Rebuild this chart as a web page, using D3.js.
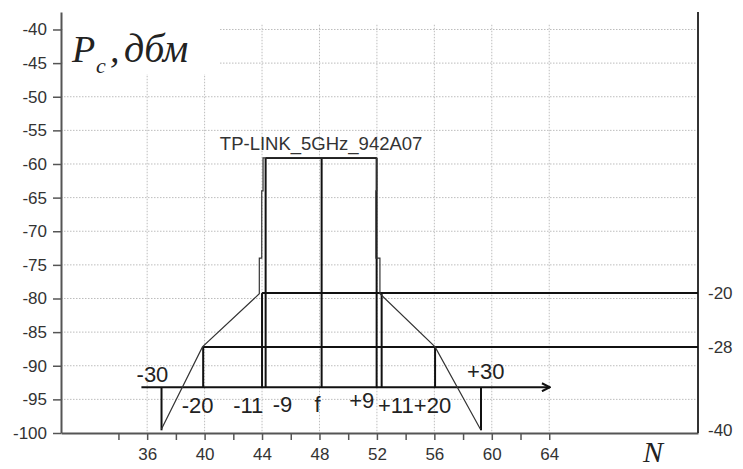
<!DOCTYPE html>
<html>
<head>
<meta charset="utf-8">
<script src="https://cdn.jsdelivr.net/npm/d3@7"></script>
<style>
  body { margin: 0; background: #fff; }
  .axis text { font-family: "Liberation Sans", Arial, sans-serif; font-size: 17px; fill: #333; }
  .axis path, .axis line { stroke: #555; }
</style>
</head>
<body>
<div id="chart"></div>
<script>
// level axis (dBm) and channel axis
var yTicks = [-100, -95, -90, -85, -80, -75, -70, -65, -60, -55, -50, -45, -40];
var xTicks = [34, 36, 38, 40, 42, 44, 46, 48, 50, 52, 54, 56, 58, 60, 62, 64];
var xLabels = [36, 40, 44, 48, 52, 56, 60, 64];

// mask levels: peak, -20, -28, -40 dBr
var levels = [-59.1, -79.2, -87.2, -99.6];
var levelNames = ["", "-20", "-28", "-40"];

// mask template (offsets from f, drawn at channel positions)
var maskNames = ["-30", "-20", "-11", "-9", "f", "+9", "+11", "+20", "+30"];
var maskCh    = [37.0, 39.9, 44.0, 44.25, 48.15, 51.98, 52.33, 56.05, 59.25];
var maskLevel = [3, 2, 1, 0, 0, 0, 1, 2, 3];
var arrowLevel = -93.2, arrowFrom = 35.6, arrowTo = 64.05;

// label anchors for the mask offsets (channel, dBm)
var labelCh = [36.37, 39.51, 43.04, 45.42, 47.86, 50.94, 53.32, 55.87, 59.58];
var labelDb = [-92.4, -97.0, -97.0, -96.9, -96.9, -96.3, -97.0, -97.0, -91.9];

// measured signal of the access point
var ssid = "TP-LINK_5GHz_942A07";
var sigCh = [37.0, 39.85, 43.81, 43.81, 43.98, 43.98, 44.07, 44.07, 51.98, 51.98, 51.93, 51.93, 52.21, 52.21, 56.05, 59.2];
var sigDb = [-99.4, -87.2, -79.3, -74, -74, -64, -64, -59.1, -59.1, -64, -64, -74, -74, -79.3, -87.2, -99.4];

var margin = {top: 12, right: 45, bottom: 36, left: 61};
var width = 743 - margin.left - margin.right,
    height = 469 - margin.top - margin.bottom;

var svg = d3.select("#chart").append("svg")
  .attr("width", 743)
  .attr("height", 469);

var g = svg.append("g")
  .attr("transform", "translate(" + margin.left + "," + margin.top + ")");

var x = d3.scaleLinear().domain([30, 74.36]).range([0, width]);
var y = d3.scaleLinear().domain([-100, -37.4]).range([height, 0]);

// grid
g.append("g").selectAll("line")
  .data(yTicks.filter(function(d) { return d > -100; }))
  .enter().append("line")
  .attr("x1", 0).attr("x2", width)
  .attr("y1", function(d) { return y(d); })
  .attr("y2", function(d) { return y(d); })
  .attr("stroke", "#bdbdbd")
  .attr("stroke-dasharray", "1.5,1.5");

g.append("g").selectAll("line")
  .data(xLabels)
  .enter().append("line")
  .attr("x1", function(d) { return x(d); })
  .attr("x2", function(d) { return x(d); })
  .attr("y1", y(-39.3)).attr("y2", height)
  .attr("stroke", "#bdbdbd")
  .attr("stroke-dasharray", "1.5,1.5");

// title box
svg.append("rect")
  .attr("x", 64).attr("y", 14).attr("width", 155).attr("height", 60)
  .attr("fill", "#fff");

var serif = "'Liberation Serif', 'Times New Roman', serif";
svg.append("text")
  .attr("x", 72).attr("y", 62)
  .attr("font-family", serif).attr("font-style", "italic")
  .attr("font-size", 38).attr("fill", "#222")
  .text("P");
svg.append("text")
  .attr("x", 96).attr("y", 73)
  .attr("font-family", serif).attr("font-style", "italic")
  .attr("font-size", 22).attr("fill", "#222")
  .text("c");
svg.append("text")
  .attr("x", 110).attr("y", 62)
  .attr("font-family", serif).attr("font-style", "italic")
  .attr("font-size", 38).attr("fill", "#222")
  .text(",");
svg.append("text")
  .attr("x", 124).attr("y", 62)
  .attr("font-family", serif).attr("font-style", "italic")
  .attr("font-size", 40).attr("fill", "#222")
  .text("дбм");

// axes
g.append("g")
  .attr("class", "axis")
  .call(d3.axisLeft(y).tickValues(yTicks).tickSize(8).tickSizeOuter(0).tickPadding(6)
    .tickFormat(function(d) { return String(d); }))
  .call(function(a) {
    a.select(".domain").attr("stroke-width", 2);
    a.selectAll(".tick line").attr("stroke-width", 1.5);
  });

g.append("g")
  .attr("class", "axis")
  .attr("transform", "translate(0," + height + ")")
  .call(d3.axisBottom(x).tickValues(xTicks).tickSize(7).tickSizeOuter(0).tickPadding(8)
    .tickFormat(function(d) { return xLabels.indexOf(d) >= 0 ? String(d) : ""; }))
  .call(function(a) {
    a.select(".domain").attr("stroke-width", 2);
    a.selectAll(".tick line").attr("stroke-width", 1.5);
  });

g.append("line")
  .attr("x1", width).attr("x2", width)
  .attr("y1", 0).attr("y2", height)
  .attr("stroke", "#333").attr("stroke-width", 2);

g.append("g").selectAll("text")
  .data(levelNames.slice(1))
  .enter().append("text")
  .attr("x", width + 10)
  .attr("y", function(d, i) { return y(levels[i + 1]); })
  .attr("dy", "0.35em")
  .attr("font-family", "'Liberation Sans', Arial, sans-serif")
  .attr("font-size", 17)
  .attr("fill", "#333")
  .text(function(d) { return d; });

svg.append("text")
  .attr("x", 643).attr("y", 462)
  .attr("font-family", serif)
  .attr("font-style", "italic")
  .attr("font-size", 30)
  .attr("fill", "#222")
  .text("N");

// arrow marker
svg.append("defs").append("marker")
  .attr("id", "arr")
  .attr("viewBox", "0 0 10 10")
  .attr("refX", 9).attr("refY", 5)
  .attr("markerWidth", 10).attr("markerHeight", 10)
  .attr("markerUnits", "userSpaceOnUse")
  .attr("orient", "auto")
  .append("path")
  .attr("d", "M1,1L9,5L1,9")
  .attr("fill", "none")
  .attr("stroke", "#111")
  .attr("stroke-width", 2);

// mask template
var mask = g.append("g").attr("stroke", "#111").attr("stroke-width", 2);

mask.append("line")
  .attr("x1", x(arrowFrom)).attr("x2", x(arrowTo))
  .attr("y1", y(arrowLevel)).attr("y2", y(arrowLevel))
  .attr("marker-end", "url(#arr)");

mask.selectAll(".vline")
  .data(maskCh)
  .enter().append("line")
  .attr("class", "vline")
  .attr("x1", function(d) { return x(d); })
  .attr("x2", function(d) { return x(d); })
  .attr("y1", y(arrowLevel))
  .attr("y2", function(d, i) { return y(levels[maskLevel[i]]); });

mask.append("line")
  .attr("x1", x(maskCh[3])).attr("x2", x(maskCh[5]))
  .attr("y1", y(levels[0])).attr("y2", y(levels[0]));
mask.append("line")
  .attr("x1", x(maskCh[2])).attr("x2", width)
  .attr("y1", y(levels[1])).attr("y2", y(levels[1]));
mask.append("line")
  .attr("x1", x(maskCh[1])).attr("x2", width)
  .attr("y1", y(levels[2])).attr("y2", y(levels[2]));

// signal
var line = d3.line()
  .x(function(d) { return x(d[0]); })
  .y(function(d) { return y(d[1]); });

g.append("path")
  .datum(d3.zip(sigCh, sigDb))
  .attr("d", line)
  .attr("fill", "none")
  .attr("stroke", "#333")
  .attr("stroke-width", 1.2);

g.append("text")
  .attr("x", x(d3.mean([maskCh[3], maskCh[5]])))
  .attr("y", y(levels[0]) - 8)
  .attr("text-anchor", "middle")
  .attr("font-family", "'Liberation Sans', Arial, sans-serif")
  .attr("font-size", 18.5)
  .attr("fill", "#333")
  .text(ssid);

g.append("g").selectAll("text")
  .data(maskNames)
  .enter().append("text")
  .attr("x", function(d, i) { return x(labelCh[i]); })
  .attr("y", function(d, i) { return y(labelDb[i]); })
  .attr("text-anchor", "middle")
  .attr("font-family", "'Liberation Sans', Arial, sans-serif")
  .attr("font-size", 22)
  .attr("fill", "#222")
  .text(function(d) { return d; });
</script>
</body>
</html>
